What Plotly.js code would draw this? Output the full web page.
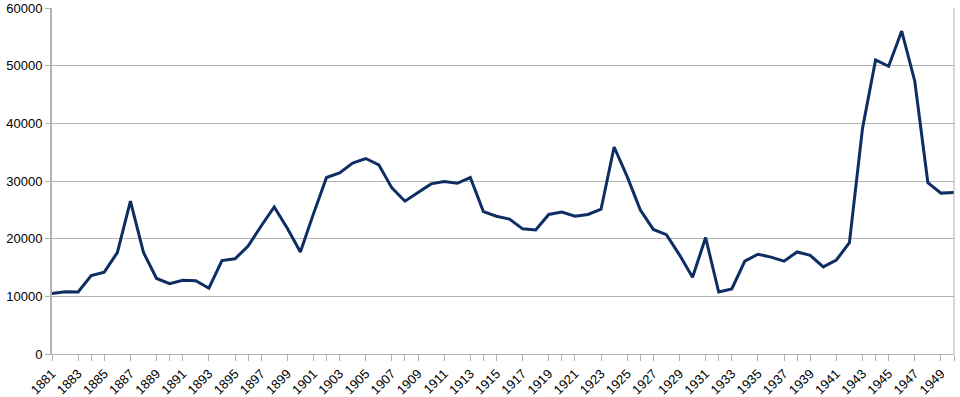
<!DOCTYPE html>
<html>
<head>
<meta charset="utf-8">
<script src="https://cdn.plot.ly/plotly-3.0.1.min.js"></script>
<style>html,body{margin:0;padding:0;background:#fff;}#chart{width:960px;height:397px;}</style>
</head>
<body>
<div id="chart"></div>
<script>
const years = [];
for (let y = 1881; y <= 1950; y++) years.push(String(y));
const values = [
  10500, 10800, 10750, 13600, 14200, 17600, 26500, 17600, 13100, 12200,
  12800, 12700, 11400, 16200, 16500, 18700, 22200, 25500, 21800, 17700,
  24300, 30600, 31400, 33100, 33900, 32800, 28800, 26500, 28000, 29500,
  29900, 29600, 30600, 24700, 23900, 23400, 21700, 21500, 24200, 24600,
  23900, 24200, 25100, 35900, 30750, 25000, 21600, 20700, 17200, 13300,
  20200, 10750, 11300, 16100, 17300, 16800, 16100, 17700, 17100, 15100,
  16300, 19300, 39100, 51000, 49900, 56000, 47300, 29700, 27900, 28000
];
const tickLabels = years.filter((y, i) => i % 2 === 0);

const trace = {
  x: years,
  y: values,
  type: 'scatter',
  mode: 'lines',
  line: {color: '#0e2d63', width: 3},
  hoverinfo: 'x+y'
};

const layout = {
  width: 960,
  height: 397,
  margin: {l: 52, r: 6, t: 8, b: 43},
  paper_bgcolor: '#ffffff',
  plot_bgcolor: '#ffffff',
  showlegend: false,
  font: {family: 'Liberation Sans, Arial, sans-serif', size: 13, color: '#000'},
  xaxis: {
    type: 'category',
    range: [0, years.length - 1],
    tickmode: 'array',
    tickvals: tickLabels,
    ticktext: tickLabels,
    tickangle: -45,
    ticks: 'outside',
    ticklen: 6,
    tickcolor: '#b3b3b3',
    showgrid: false,
    showline: true,
    linecolor: '#b3b3b3',
    linewidth: 1,
    mirror: false,
    zeroline: false,
    tickfont: {size: 13}
  },
  yaxis: {
    range: [0, 60000],
    dtick: 10000,
    tick0: 0,
    ticks: 'outside',
    ticklen: 5,
    tickcolor: '#b3b3b3',
    showgrid: true,
    gridcolor: '#b3b3b3',
    gridwidth: 1,
    showline: true,
    linecolor: '#b3b3b3',
    linewidth: 2,
    zeroline: false,
    tickformat: 'd',
    tickfont: {size: 13}
  },
  shapes: [
    {type: 'line', xref: 'paper', yref: 'paper', x0: 1, x1: 1, y0: 0, y1: 1,
     line: {color: '#b3b3b3', width: 1}}
  ]
};

// minor ticks for each year (unlabelled)
layout.xaxis.minor = {ticks: 'outside', ticklen: 6, tickcolor: '#b3b3b3', showgrid: false};

Plotly.newPlot('chart', [trace], layout, {displayModeBar: false, staticPlot: true});
</script>
</body>
</html>
